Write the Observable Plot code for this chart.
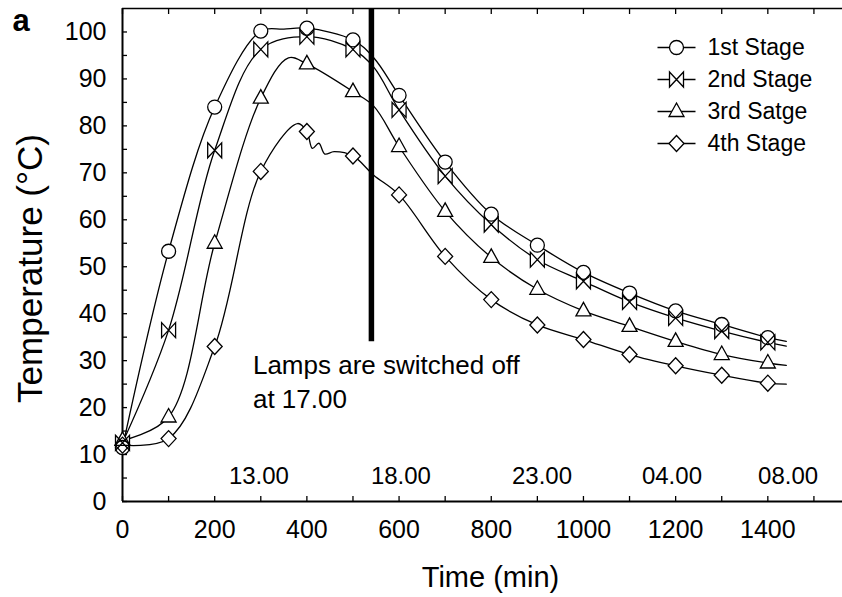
<!DOCTYPE html>
<html>
<head>
<meta charset="utf-8">
<script src="https://cdn.jsdelivr.net/npm/d3@7"></script>
<script src="https://cdn.jsdelivr.net/npm/@observablehq/plot@0.6"></script>
<style>
  html, body { margin: 0; padding: 0; background: #fff; }
  svg { overflow: visible; }
</style>
</head>
<body>
<div id="chart"></div>
<script>
// ---------- data ----------
const time = [0, 100, 200, 300, 400, 500, 600, 700, 800, 900, 1000, 1100, 1200, 1300, 1400];
const stage1 = [11.5, 53.3, 84.0, 100.2, 100.8, 98.3, 86.5, 72.3, 61.2, 54.6, 48.8, 44.4, 40.6, 37.7, 34.9];
const stage2 = [12.5, 36.5, 74.8, 96.3, 99.0, 96.3, 83.4, 69.3, 59.0, 51.5, 46.9, 42.5, 39.1, 36.3, 33.9];
const stage3 = [13.0, 18.0, 55.0, 85.9, 93.2, 87.3, 75.6, 61.8, 52.0, 45.2, 40.6, 37.3, 34.1, 31.3, 29.5];
const stage4 = [12.0, 13.4, 33.0, 70.3, 78.8, 73.6, 65.3, 52.2, 43.0, 37.6, 34.5, 31.3, 28.9, 26.9, 25.2];
const seriesNames = ["1st Stage", "2nd Stage", "3rd Satge", "4th Stage"];

// extra points of the drawn curves that fall between the markers
const extraTime1 = [350, 545, 1440];
const extraTemp1 = [100.6, 94.5, 34.1];
const extraTime2 = [545, 1440];
const extraTemp2 = [92.5, 33.1];
const extraTime3 = [360, 545, 1440];
const extraTemp3 = [94.5, 84.2, 29.0];
const extraTime4 = [380, 412, 426, 439, 459, 545, 1440];
const extraTemp4 = [80.5, 75.2, 76.3, 74.0, 74.5, 69.5, 25.0];

const xTickLabels = [0, 200, 400, 600, 800, 1000, 1200, 1400];
const xTickMarks = [0, 100, 200, 300, 400, 500, 600, 700, 800, 900, 1000, 1100, 1200, 1300, 1400, 1500];
const yTickLabels = [0, 10, 20, 30, 40, 50, 60, 70, 80, 90, 100];
const yTickMarks = [0, 5, 10, 15, 20, 25, 30, 35, 40, 45, 50, 55, 60, 65, 70, 75, 80, 85, 90, 95, 100];

const clockTime = [296, 604, 910, 1192, 1444];
const clockLabels = ["13.00", "18.00", "23.00", "04.00", "08.00"];
const clockLabelTemp = 5.3;

const lampsOffTime = 540;
const lampsLineBottom = 34;
const lampsText = "Lamps are switched off\nat 17.00";
const lampsTextTime = 283;
const lampsTextTemp = 25.8;

const xDomain = [0, 1562];
const yDomain = [0, 105];

// ---------- build tables ----------
const stages = [stage1, stage2, stage3, stage4];
const extraTimes = [extraTime1, extraTime2, extraTime3, extraTime4];
const extraTemps = [extraTemp1, extraTemp2, extraTemp3, extraTemp4];

const lineData = [];
const markerData = [];
seriesNames.forEach((name, s) => {
  const pts = time.map((t, i) => ({series: name, t, v: stages[s][i]}));
  markerData.push(pts.slice());
  extraTimes[s].forEach((t, j) => pts.push({series: name, t, v: extraTemps[s][j]}));
  pts.sort((a, b) => a.t - b.t);
  lineData.push(...pts);
});

// ---------- symbols ----------
const symCircle = {draw(c) { c.moveTo(7, 0); c.arc(0, 0, 7, 0, 2 * Math.PI); c.closePath(); }};
const symBowtie = {draw(c) { c.moveTo(-7, -7.5); c.lineTo(7, 7.5); c.lineTo(7, -7.5); c.lineTo(-7, 7.5); c.closePath(); }};
const symTriangle = {draw(c) { c.moveTo(0, -8.5); c.lineTo(7.5, 5); c.lineTo(-7.5, 5); c.closePath(); }};
const symDiamond = {draw(c) { c.moveTo(0, -8); c.lineTo(7.5, 0); c.lineTo(0, 8); c.lineTo(-7.5, 0); c.closePath(); }};
const symSegment = {draw(c) { c.moveTo(-19, 0); c.lineTo(19, 0); }};
const symbols = [symCircle, symBowtie, symTriangle, symDiamond];

// ---------- layout ----------
const W = 842, H = 597;
const mL = 122, mR = 0, mT = 8, mB = 96;
const legendMarkerX = 676, legendTextX = 707;
const legendRowY = [47, 79, 111, 143];

const marks = [];

// frame lines
marks.push(Plot.ruleX([0], {stroke: "black", strokeWidth: 2}));
marks.push(Plot.ruleY([0], {stroke: "black", strokeWidth: 2}));
marks.push(Plot.ruleY([yDomain[1]], {stroke: "black", strokeWidth: 1.5}));

// inward tick marks
marks.push(Plot.axisY({ticks: yTickMarks, tickSize: -5, tickFormat: () => "", label: null, strokeWidth: 1.3}));
marks.push(Plot.axisX({ticks: xTickMarks, tickSize: -5, tickFormat: () => "", label: null, strokeWidth: 1.3}));
marks.push(Plot.axisX({anchor: "top", ticks: xTickMarks, tickSize: -5, tickFormat: () => "", label: null, strokeWidth: 1.3}));

// tick labels
marks.push(Plot.axisY({ticks: yTickLabels, tickSize: 0, tickPadding: 16, fontSize: 25, label: null, tickFormat: d => String(d)}));
marks.push(Plot.axisX({ticks: xTickLabels, tickSize: 0, tickPadding: 19, fontSize: 25, label: null, tickFormat: d => String(d)}));

// lamp switch-off line
marks.push(Plot.ruleX([lampsOffTime], {y1: lampsLineBottom, y2: yDomain[1], stroke: "black", strokeWidth: 5.5}));

// curves
marks.push(Plot.line(lineData, {x: "t", y: "v", z: "series", curve: "catmull-rom", stroke: "black", strokeWidth: 1.3}));

// markers: white fill first, then outlines of all
markerData.forEach((pts, s) => {
  marks.push(Plot.dot(pts, {x: "t", y: "v", symbol: symbols[s], r: 7, fill: "white", stroke: "none"}));
});
markerData.forEach((pts, s) => {
  marks.push(Plot.dot(pts, {x: "t", y: "v", symbol: symbols[s], r: 7, fill: "none", stroke: "black", strokeWidth: 1.3}));
});

// clock annotations
marks.push(Plot.text(clockTime, {x: d => d, y: clockLabelTemp, text: (d, i) => clockLabels[i], fontSize: 24, lineAnchor: "middle"}));

// lamps annotation
marks.push(Plot.text([lampsText], {x: lampsTextTime, y: lampsTextTemp, text: d => d, textAnchor: "start", lineAnchor: "middle", lineHeight: 1.3, fontSize: 26}));

// legend
seriesNames.forEach((name, s) => {
  const dy = legendRowY[s] - mT;
  marks.push(Plot.dot([0], {x: null, y: null, frameAnchor: "top-left", dx: legendMarkerX - mL, dy, symbol: symSegment, r: 7, fill: "none", stroke: "black", strokeWidth: 1.3}));
  marks.push(Plot.dot([0], {x: null, y: null, frameAnchor: "top-left", dx: legendMarkerX - mL, dy, symbol: symbols[s], r: 7, fill: "white", stroke: "black", strokeWidth: 1.3}));
  marks.push(Plot.text([name], {x: null, y: null, frameAnchor: "top-left", dx: legendTextX - mL, dy, text: d => d, textAnchor: "start", lineAnchor: "middle", fontSize: 23}));
});

// axis titles and panel letter
marks.push(Plot.text(["Time (min)"], {x: null, y: null, frameAnchor: "bottom", dx: 8, dy: 76, text: d => d, textAnchor: "middle", lineAnchor: "middle", fontSize: 29}));
marks.push(Plot.text(["Temperature (°C)"], {x: null, y: null, frameAnchor: "left", dx: -81, dy: 13.5, rotate: -90, text: d => d, textAnchor: "middle", lineAnchor: "bottom", fontSize: 35}));
marks.push(Plot.text(["a"], {x: null, y: null, frameAnchor: "top-left", dx: 12 - mL, dy: 30 - mT, text: d => d, textAnchor: "start", lineAnchor: "bottom", fontSize: 31, fontWeight: "bold"}));

const chart = Plot.plot({
  width: W,
  height: H,
  marginLeft: mL,
  marginRight: mR,
  marginTop: mT,
  marginBottom: mB,
  x: {domain: xDomain, axis: null},
  y: {domain: yDomain, axis: null},
  style: {fontFamily: "'Liberation Sans', Arial, sans-serif", color: "black", background: "white"},
  marks
});
document.getElementById("chart").appendChild(chart);
</script>
</body>
</html>
